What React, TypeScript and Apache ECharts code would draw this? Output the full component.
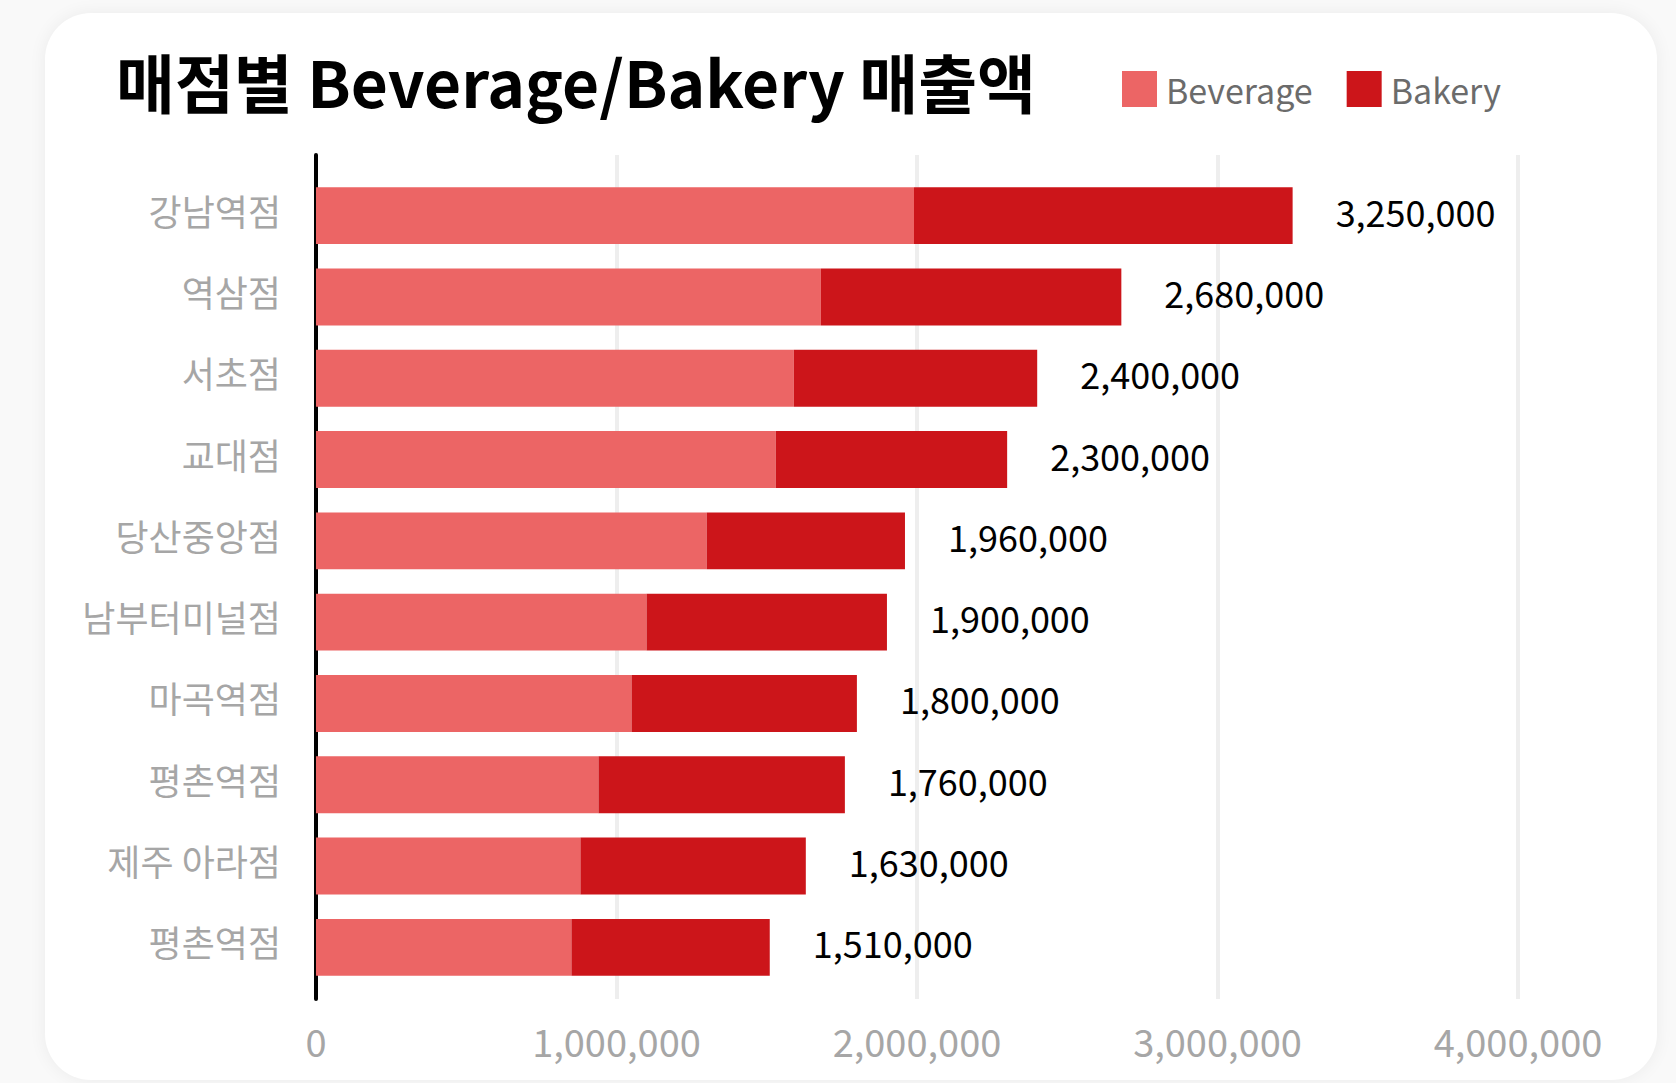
import React, { useEffect, useRef } from "react";
import * as echarts from "echarts";

const TITLE = "매점별 Beverage/Bakery 매출액";
const stores = ["강남역점", "역삼점", "서초점", "교대점", "당산중앙점", "남부터미널점", "마곡역점", "평촌역점", "제주 아라점", "평촌역점"];
const beverage = [1990000, 1680000, 1590000, 1530000, 1300000, 1100000, 1050000, 940000, 880000, 850000];
const bakery = [1260000, 1000000, 810000, 770000, 660000, 800000, 750000, 820000, 750000, 660000];
const xTicks = [0, 1000000, 2000000, 3000000, 4000000];

const FONT = "'Noto Sans CJK KR', 'Noto Sans', sans-serif";
const fmt = (v: number) => v.toLocaleString("en-US");

export default function App() {
  const ref = useRef<HTMLDivElement>(null);
  useEffect(() => {
    if (!ref.current) return;
    const chart = echarts.init(ref.current, null, { renderer: "svg" });
    const totals = beverage.map((v, i) => v + bakery[i]);
    const xMin = xTicks[0];
    const xMax = xTicks[xTicks.length - 1];
    const xInt = xTicks[1] - xTicks[0];
    chart.setOption({
      animation: false,
      textStyle: { fontFamily: FONT },
      title: {
        text: TITLE,
        left: 116,
        top: 46,
        padding: 0,
        textStyle: { fontFamily: FONT, fontSize: 64, fontWeight: "bold", color: "#000", lineHeight: 68 },
      },
      legend: {
        left: 1122,
        top: 71,
        padding: 0,
        itemWidth: 35,
        itemHeight: 36,
        itemGap: 34,
        icon: "rect",
        textStyle: { fontFamily: FONT, fontSize: 34, color: "#6b6b6b", padding: [0, 0, 0, 4] },
        data: ["Beverage", "Bakery"],
      },
      grid: [
        { left: 316, width: 1202, top: 175, height: 813 },
        { left: 316, width: 1202, top: 155, height: 844 },
      ],
      xAxis: [
        { type: "value", gridIndex: 0, min: xMin, max: xMax, interval: xInt, show: false },
        {
          type: "value",
          gridIndex: 1,
          min: xMin,
          max: xMax,
          interval: xInt,
          axisLine: { show: false },
          axisTick: { show: false },
          splitLine: { show: true, lineStyle: { color: "#eeeeee", width: 4 } },
          axisLabel: { color: "#a6a6a6", fontSize: 38, margin: 22, formatter: (v: number) => fmt(v), fontFamily: FONT },
        },
      ],
      yAxis: [
        {
          type: "category",
          gridIndex: 0,
          inverse: true,
          data: stores,
          axisLine: { show: false },
          axisTick: { show: false },
          splitLine: { show: false },
          axisLabel: {
            margin: 35,
            formatter: (v: string) => `{a|${v}}`,
            rich: { a: { color: "#a6a6a6", fontSize: 36, fontFamily: FONT, padding: [0, 0, 12, 0] } },
          },
        },
        {
          type: "category",
          gridIndex: 1,
          data: [""],
          axisLine: { show: true, lineStyle: { color: "#000", width: 4 } },
          axisTick: { show: false },
          axisLabel: { show: false },
          splitLine: { show: false },
        },
      ],
      series: [
        {
          name: "Beverage",
          type: "bar",
          stack: "total",
          xAxisIndex: 0,
          yAxisIndex: 0,
          barWidth: "70%",
          itemStyle: { color: "#ec6565" },
          data: beverage,
        },
        {
          name: "Bakery",
          type: "bar",
          stack: "total",
          xAxisIndex: 0,
          yAxisIndex: 0,
          barWidth: "70%",
          itemStyle: { color: "#cc151a" },
          label: {
            show: true,
            position: "right",
            distance: 43,
            offset: [0, -5],
            color: "#000",
            fontSize: 36,
            fontFamily: FONT,
            formatter: (p: any) => fmt(totals[p.dataIndex]),
          },
          data: bakery,
        },
      ],
    });
    return () => chart.dispose();
  }, []);

  return (
    <div style={{ position: "absolute", left: 0, top: 0, width: 1676, height: 1083, background: "#f9f9f9", overflow: "hidden" }}>
      <div
        style={{
          position: "absolute",
          left: 45,
          top: 13,
          width: 1612,
          height: 1067,
          borderRadius: 46,
          background: "#fff",
          boxShadow: "0 0 18px rgba(0,0,0,0.06)",
        }}
      />
      <div ref={ref} style={{ position: "absolute", left: 0, top: 0, width: 1676, height: 1083 }} />
    </div>
  );
}
